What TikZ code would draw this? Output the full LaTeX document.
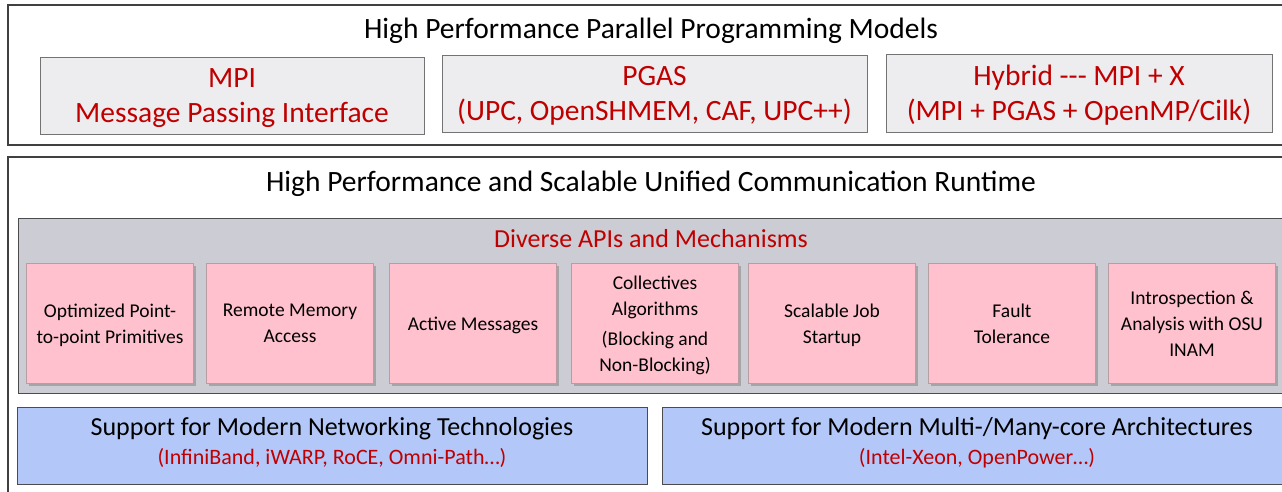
\documentclass[tikz,border=0pt]{standalone}
\usepackage{fontspec}
\setmainfont{Carlito}
\usetikzlibrary{shadows}
\definecolor{hpred}{HTML}{C00000}
\definecolor{modelgray}{HTML}{EDEDF0}
\definecolor{apigray}{HTML}{CBCCD4}
\definecolor{apipink}{HTML}{FFC1CD}
\definecolor{netblue}{HTML}{B3C8F8}
\tikzset{inner sep=0pt, outer sep=0pt}
\tikzset{
  frame/.style={draw=black!75, line width=1.3pt},
  modelbox/.style={draw=black!55, line width=1pt, fill=modelgray, text=hpred,
    align=center, text depth=0pt, font=\fontsize{29.5}{35}\selectfont},
  apibox/.style={draw=apipink!60!black!70, line width=.8pt, fill=apipink,
    minimum width=167, minimum height=120, align=center, text depth=0pt,
    font=\fontsize{19.5}{26}\selectfont,
    drop shadow={shadow xshift=2pt, shadow yshift=-2pt, fill=black!45, opacity=.6}},
  supportbox/.style={draw=black!70, line width=1pt, fill=netblue,
    minimum height=77, align=center, text depth=9pt, font=\fontsize{26}{29}\selectfont}
}

\begin{document}
\begin{tikzpicture}[x=1pt, y=-1pt]
\useasboundingbox (0,0) rectangle (1282,491);
\fill[white] (0,0) rectangle (1282,491);
% programming models
\draw[frame] (8,5) rectangle (1295,145);
\node[font=\fontsize{29.5}{30}\selectfont] (models) at (651,31) {High Performance Parallel Programming Models};
\node[modelbox, minimum width=384, minimum height=77] (mpi) at (232,95.5) {MPI\\Message Passing Interface};
\node[modelbox, minimum width=425, minimum height=77] (pgas) at (654.5,93.5) {PGAS\\(UPC, OpenSHMEM, CAF, UPC++)};
\node[modelbox, minimum width=386, minimum height=78] (hybrid) at (1079,93) {Hybrid -{}-{}- MPI + X\\(MPI + PGAS + OpenMP/Cilk)};
% runtime
\draw[frame] (8,157) rectangle (1295,500);
\node[font=\fontsize{29.5}{30}\selectfont] (runtime) at (651,183.5) {High Performance and Scalable Unified Communication Runtime};
\draw[draw=black!70, line width=1pt, fill=apigray] (18,218) rectangle (1290,393);
\node[text=hpred, font=\fontsize{26}{28}\selectfont] (diverse) at (651,239) {Diverse APIs and Mechanisms};
\foreach \cx/\txt [count=\i] in {110/{Optimized Point-\\to-point Primitives},
    290/{Remote Memory\\Access}, 473/{Active Messages},
    655/{Collectives\\Algorithms\\[4pt](Blocking and\\Non-Blocking)},
    832/{Scalable Job\\Startup}, 1012/{Fault\\Tolerance},
    1192/{Introspection \&\\Analysis with OSU\\INAM}} {
  \node[apibox] (api\i) at (\cx,323.5) {\txt};
} % end of \foreach \cx
% support layers
\node[supportbox, minimum width=630] (network) at (332,445.5) {%
  Support for Modern Networking Technologies\\
  \color{hpred}\fontsize{22}{29}\selectfont (InfiniBand, iWARP, RoCE, Omni-Path…)};
\node[supportbox, minimum width=630] (multicore) at (977,445.5) {%
  Support for Modern Multi-/Many-core Architectures\\
  \color{hpred}\fontsize{22}{29}\selectfont (Intel-Xeon, OpenPower…)};
\end{tikzpicture}
\end{document}
